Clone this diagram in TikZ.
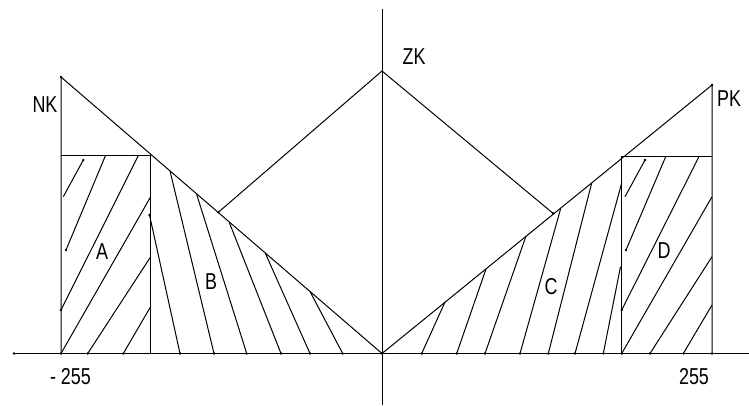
\documentclass[tikz,border=0pt]{standalone}
\usepackage{fontspec}
\newfontfamily\labfont[FakeStretch=0.78]{Liberation Sans}
\begin{document}
\begin{tikzpicture}[x=1pt,y=-1pt,
  edge/.style={line width=1pt,black},
  hatch/.style={line width=1pt,black},
  lab/.style={font=\labfont\fontsize{23}{26}\selectfont,inner sep=0pt},
  dotmark/.style={fill=black,draw=none}]
\useasboundingbox (0,0) rectangle (749,405);
% key points
\coordinate (O) at (382,353.5);
\coordinate (NKp) at (61,77);
\coordinate (PKp) at (712,85);
\coordinate (ZKp) at (382,71);
\coordinate (AxL) at (14,353.5);
\coordinate (AxR) at (749,353.5);
\coordinate (AxT) at (382,9);
\coordinate (AxB) at (382,405);
\coordinate (LM) at (218.3,212.3);
\coordinate (RM) at (553,213.3);
% axes
\draw[edge] (AxL) -- (AxR);
\draw[edge] (AxT) -- (AxB);
% outline
\draw[edge] (61,353.5) -- (NKp) -- (O) -- (PKp) -- (712,353.5);
\draw[edge] (61,155.7) -- (150.7,155.7) -- (150.7,353.5);
\draw[edge] (621.7,353.5) -- (621.7,156) -- (712,156);
\draw[edge] (LM) -- (ZKp) -- (RM);
% hatching A
\draw[hatch] (63.3,196.7) -- (83.3,160);
\draw[hatch] (66,250) -- (105.3,156);
\draw[hatch] (61,310) -- (138.3,155.7);
\draw[hatch] (61,353.5) -- (150.7,196.7);
\draw[hatch] (87.7,353.5) -- (150.7,256.7);
\draw[hatch] (123.3,353.5) -- (150.7,306.5);
% hatching B
\draw[hatch] (149.5,215) -- (180,353.5);
\draw[hatch] (170,171) -- (214,353.5);
\draw[hatch] (196.7,194.5) -- (246.7,353.5);
\draw[hatch] (229.3,222.5) -- (281,353.5);
\draw[hatch] (265,252.5) -- (310,353.5);
\draw[hatch] (310,291.5) -- (342.7,353.5);
% hatching C
\draw[hatch] (421.7,353.5) -- (445,302);
\draw[hatch] (456.7,353.5) -- (486,269);
\draw[hatch] (485,353.5) -- (526,236);
\draw[hatch] (520,353.5) -- (560.7,208.5);
\draw[hatch] (548.3,353.5) -- (591.7,183);
\draw[hatch] (575,353.5) -- (621.7,183);
\draw[hatch] (603.3,353.5) -- (620.5,266.7);
% hatching D
\draw[hatch] (625,196.7) -- (645,160);
\draw[hatch] (626,250) -- (666,156);
\draw[hatch] (621.7,310) -- (699.3,156);
\draw[hatch] (621.7,353.5) -- (712,196.7);
\draw[hatch] (650,353.5) -- (712,256.7);
\draw[hatch] (683.3,353.5) -- (712,305);
% small dots
\foreach \p in {(14,353.5),(61,353.5),(87.7,353.5),(123.3,353.5),(180,353.5),(214,353.5),(246.7,353.5),(281,353.5),(310,353.5),(342.7,353.5),(382,353.5),(421.7,353.5),(456.7,353.5),(485,353.5),(520,353.5),(548.3,353.5),(575,353.5),(603.3,353.5),(621.7,353.5),(650,353.5),(683.3,353.5),(712,353.5),(61,77),(712,85),(83.3,160),(66,250),(61,310),(149.5,215),(645,160),(626,250),(621.7,310),(218.3,212.3),(553,213.3)}
  \fill[dotmark] \p circle (1.3);
% labels
\node[lab] (nk) at (45,105) {NK};
\node[lab] (pk) at (729,99) {PK};
\node[lab] (zk) at (414,57) {ZK};
\node[lab] (la) at (102,252) {A};
\node[lab] (lb) at (211,282) {B};
\node[lab] (lc) at (551,287) {C};
\node[lab] (ld) at (664,251) {D};
\node[lab] (lm) at (70.5,377) {- 255};
\node[lab] (lp) at (694,377) {255};
\end{tikzpicture}
\end{document}
